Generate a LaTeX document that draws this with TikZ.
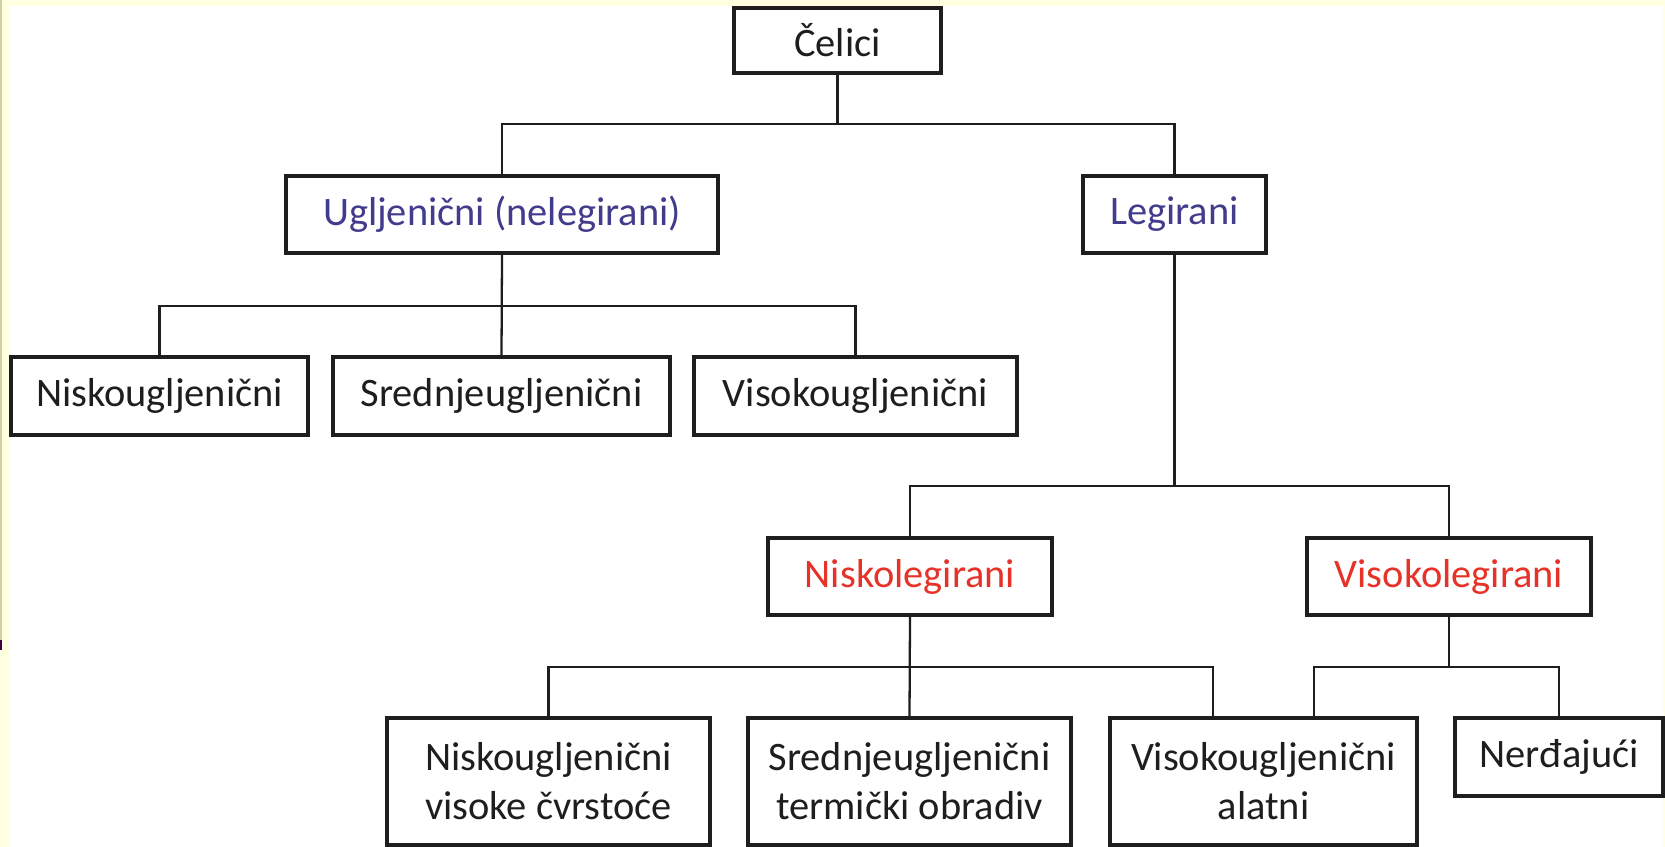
\documentclass[tikz,border=0pt]{standalone}
\usepackage{fontspec}
\setmainfont{Carlito}
\usepackage{tikz}
\usetikzlibrary{positioning}
\definecolor{pozadina}{RGB}{255,255,226}
\definecolor{traka}{RGB}{206,206,160}
\definecolor{oznaka}{RGB}{64,0,64}
\definecolor{plava}{RGB}{66,60,140}
\definecolor{crvena}{RGB}{230,50,40}
\definecolor{tamna}{RGB}{30,30,30}
\tikzset{
    %Define style for boxes
    kutija/.style={
           rectangle,
           draw=tamna, line width=1.9pt,
           inner sep=0pt,
           font=\fontsize{23}{28}\selectfont,
           align=center,
           text=tamna,
           fill=white},
    grupa/.style={
           kutija,
           text=plava},
    podgrupa/.style={
           kutija,
           text=crvena},
    % Define line style
    veza/.style={
           draw=tamna,
           line width=1.3pt}
}
\begin{document}
\begin{tikzpicture}[x=0.02cm,y=-0.02cm]
 %background
\useasboundingbox (0,0) rectangle (1665,847);
\fill[pozadina] (0,0) rectangle (1665,847);
\fill[traka] (0,0) rectangle (2,640);
\fill[oznaka] (0,640) rectangle (2,650);
\fill[white] (9,6) rectangle (1663,847);

 %levels of the branches
\coordinate (r1) at (0,124);
\coordinate (r2) at (0,306);
\coordinate (r3) at (0,486);
\coordinate (r4) at (0,667);

 %nodes
\node[kutija, minimum width=4.14cm, minimum height=1.30cm] (celici) at (837.5,40.5) {Čelici};
\node[grupa, minimum width=8.64cm, minimum height=1.54cm] (uglj) at (502,214.5) {Ugljenični (nelegirani)};
\node[grupa, minimum width=3.66cm, minimum height=1.54cm] (legir) at (1174.5,214.5) {Legirani};
\node[kutija, minimum width=5.94cm, minimum height=1.56cm] (nisko) at (159.5,396) {Niskougljenični};
\node[kutija, minimum width=6.74cm, minimum height=1.56cm] (srednje) at (501.5,396) {Srednjeugljenični};
\node[kutija, minimum width=6.46cm, minimum height=1.56cm] (visoko) at (855.5,396) {Visokougljenični};
\node[podgrupa, minimum width=5.68cm, minimum height=1.54cm] (nlegir) at (910,576.5) {Niskolegirani};
\node[podgrupa, minimum width=5.68cm, minimum height=1.54cm] (vlegir) at (1449,576.5) {Visokolegirani};
\node[kutija, minimum width=6.46cm, minimum height=2.54cm] (nvc) at (548.5,781.5) {Niskougljenični\\visoke čvrstoće};
\node[kutija, minimum width=6.46cm, minimum height=2.54cm] (stob) at (909.5,781.5) {Srednjeugljenični\\termički obradiv};
\node[kutija, minimum width=6.14cm, minimum height=2.54cm] (val) at (1263.5,781.5) {Visokougljenični\\alatni};
\node[kutija, minimum width=4.16cm, minimum height=1.56cm] (nerd) at (1559,757) {Nerđajući};
\coordinate (valL) at ([xshift=-1.01cm]val.north);
\coordinate (valR) at ([xshift=1.01cm]val.north);

 %lines
\draw[veza] (celici.south) -- (celici.south |- r1);
\draw[veza] (uglj.north) -- (uglj.north |- r1) -- (legir.north |- r1) -- (legir.north);
\draw[veza] (uglj.south) -- (srednje.north);
\draw[veza] (nisko.north) -- (nisko.north |- r2) -- (visoko.north |- r2) -- (visoko.north);
\draw[veza] (legir.south) -- (legir.south |- r3);
\draw[veza] (nlegir.north) -- (nlegir.north |- r3) -- (vlegir.north |- r3) -- (vlegir.north);
\draw[veza] (nlegir.south) -- (stob.north);
\draw[veza] (nvc.north) -- (nvc.north |- r4) -- (valL |- r4) -- (valL);
\draw[veza] (vlegir.south) -- (vlegir.south |- r4);
\draw[veza] (valR) -- (valR |- r4) -- (nerd.north |- r4) -- (nerd.north);
\end{tikzpicture}
\end{document}
